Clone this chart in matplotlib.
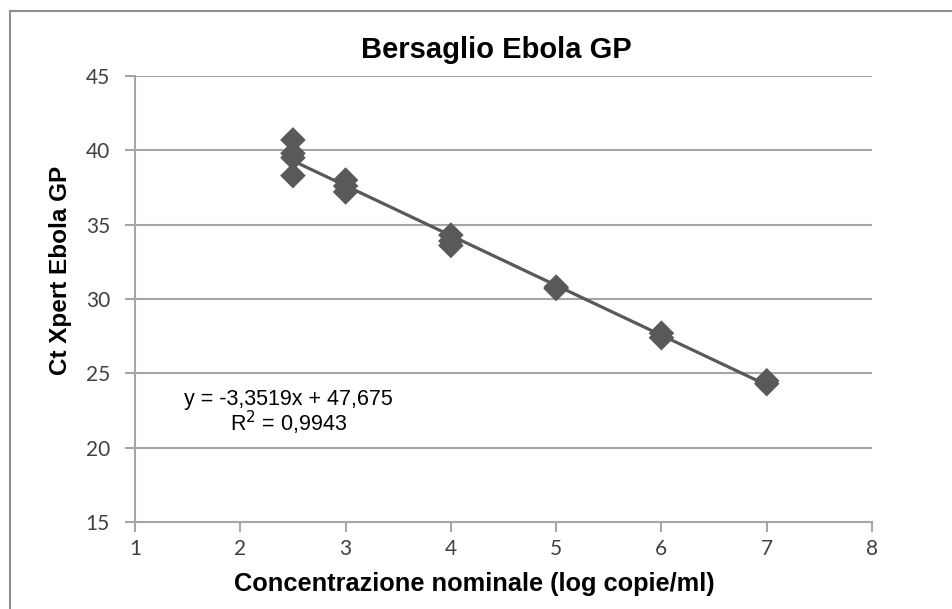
import numpy as np
import matplotlib.pyplot as plt
from matplotlib.patches import Rectangle

# replicate Ct values
conc = [2.5, 2.5, 2.5, 2.5, 3, 3, 3, 4, 4, 4, 5, 5, 6, 6, 7, 7]
ct = [40.7, 39.8, 39.5, 38.3, 38.0, 37.6, 37.2, 34.3, 33.9, 33.6,
      30.8, 30.7, 27.7, 27.4, 24.5, 24.3]

slope = -3.3519
intercept = 47.675
r2 = 0.9943

xticks = [1, 2, 3, 4, 5, 6, 7, 8]
yticks = [15, 20, 25, 30, 35, 40, 45]

fig = plt.figure(figsize=(9.53, 6.09), dpi=100)
ax = fig.add_axes([135 / 953, 1 - 522 / 609, 737 / 953, 446 / 609])

# outer chart frame
fig.patches.append(Rectangle((10 / 953, -0.1), 1.2, 1 - 11 / 609 + 0.1,
                             transform=fig.transFigure, fill=False,
                             edgecolor='#8c8c8c', linewidth=1.5))

mark_col = '#595959'
xfit = np.array([min(conc), max(conc)])
ax.plot(xfit, slope * xfit + intercept, color=mark_col, linewidth=2.3, zorder=3)
ax.scatter(conc, ct, marker='D', s=170, color=mark_col, edgecolor='none', zorder=4)

ax.set_xlim(1, 8)
ax.set_ylim(15, 45)
ax.set_xticks(xticks)
ax.set_yticks(yticks)
ax.yaxis.grid(True, color='#a6a6a6', linewidth=1.5)
ax.set_axisbelow(True)
for s in ['top', 'right']:
    ax.spines[s].set_visible(False)
for s in ['left', 'bottom']:
    ax.spines[s].set_color('#a6a6a6')
    ax.spines[s].set_linewidth(1.5)
ax.tick_params(colors='#a6a6a6', width=1.5, length=7, labelcolor='#404040',
               labelsize=15)
ax.tick_params(axis='x', pad=5)
ax.tick_params(axis='y', pad=11)
for lab in ax.get_xticklabels() + ax.get_yticklabels():
    lab.set_family('Lato')

ax.set_title('Bersaglio Ebola GP', fontsize=21, fontweight='bold',
             family='Liberation Sans', x=0.49, pad=13)
ax.set_xlabel('Concentrazione nominale (log copie/ml)', fontsize=18.3,
              fontweight='bold', family='Liberation Sans')
ax.xaxis.set_label_coords(0.46, -0.111)
ax.set_ylabel('Ct Xpert Ebola GP', fontsize=17.5, fontweight='bold',
              family='Liberation Sans')
ax.yaxis.set_label_coords(-0.086, 0.565)

eq = 'y = -3,3519x + 47,675\nR$^2$ = 0,9943'
ax.text(2.46, 22.35, eq, fontsize=15.5, family='Liberation Sans', ha='center',
        va='center', linespacing=0.95)

fig.savefig('out.png', dpi=100)
